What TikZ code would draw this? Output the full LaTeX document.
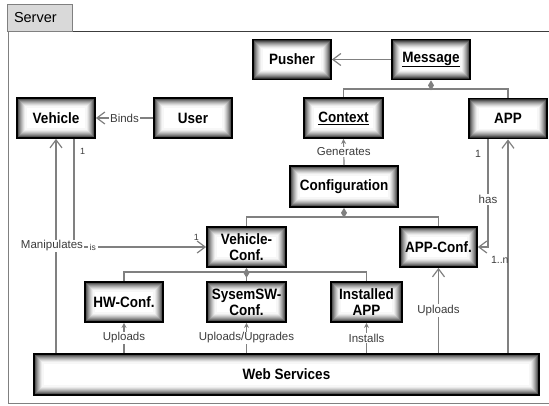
\documentclass[tikz,border=0pt]{standalone}
\usepackage{fontspec}
\setmainfont{Liberation Sans}
\newfontfamily\boxfont[FakeStretch = 0.9]{Liberation Sans}
\usetikzlibrary{arrows.meta}
\definecolor{linegray}{RGB}{128, 128, 128}
\definecolor{labgray}{RGB}{60, 60, 60}
\definecolor{tabgray}{RGB}{217, 217, 217}

\begin{document}
\begin{tikzpicture}[x = 1pt, y = -1pt,
  cls/.style = {draw = black, line width = 1.8pt, fill = white, inner sep = 0pt,
    minimum width = 78pt, minimum height = 40pt, align = center,
    font = \boxfont\bfseries\fontsize{15}{16}\selectfont,
    path picture = {\foreach \k/\tone in {1/80, 2/66, 3/53, 4/42, 5/32, 6/23, 7/15, 8/8, 9/3}
      \draw[black!\tone, line width = 1.1pt]
        ([shift = {({\k*1pt}, {\k*1pt})}]path picture bounding box.south west) rectangle
        ([shift = {({-\k*1pt}, {-\k*1pt})}]path picture bounding box.north east);}},
  conn/.style = {draw = linegray, line width = 1.2pt},
  open/.style = {conn, -{Straight Barb[length = 8pt, width = 12pt, line width = 1.2pt]}},
  small/.style = {conn, -{Stealth[length = 5pt, width = 5pt]}},
  agg/.style = {conn, {Diamond[length = 10pt, width = 6pt]}-},
  lab/.style = {fill = white, inner sep = 1pt, text = labgray, font = \fontsize{11.5}{13}\selectfont},
  mult/.style = {inner sep = 0.5pt, text = labgray, font = \fontsize{9}{10}\selectfont}]
\useasboundingbox (0, 0) rectangle (549, 405);

% frame and tab
\draw[color = linegray, line width = 1pt] (549, 403) -- (8, 403) -- (8, 31);
\draw[color = labgray, line width = 1pt] (8, 31) -- (549, 31);
\node[draw = linegray, fill = tabgray, line width = 0.8pt, minimum height = 27pt,
  inner xsep = 7pt, text width = 51pt, align = left,
  font = \fontsize{14.5}{16}\selectfont] (tab) at (39.5, 17.5) {Server};

% classes
\node[cls] (pusher) at (292, 59.5) {Pusher};
\node[cls] (msg) at (431, 59.5) {\underline{Message}};
\node[cls] (veh) at (56, 118) {Vehicle};
\node[cls] (user) at (193, 118) {User};
\node[cls, minimum width = 79pt] (ctx) at (343.5, 118) {\underline{Context}};
\node[cls] (app) at (508, 118.5) {APP};
\node[cls, minimum width = 108pt, minimum height = 41pt] (config) at (344, 186.5) {Configuration};
\node[cls, minimum width = 79pt] (vconf) at (246.5, 247) {Vehicle-\\Conf.};
\node[cls, minimum width = 77pt] (aconf) at (438.5, 247) {APP-Conf.};
\node[cls] (hw) at (124, 302) {HW-Conf.};
\node[cls, minimum width = 79pt] (sw) at (246.5, 302) {SysemSW-\\Conf.};
\node[cls, minimum width = 71pt] (inst) at (366.5, 302) {Installed\\APP};
\node[cls, minimum width = 505pt, minimum height = 41pt] (web) at (286.5, 374.5) {Web Services};

% associations
\draw[open] (msg) -- (pusher);
\draw[open] (user) -- node[lab] {Binds} (veh);
\draw[small] (config.north) -- node[lab] {Generates} (ctx.south);

% aggregations
\coordinate (msgbus) at (431, 89);
\draw[agg] (msg.south) -- (msgbus) -| (ctx.north);
\draw[conn] (msgbus) -| (app.north);
\coordinate (confbus) at (344, 217);
\draw[agg] (config.south) -- (confbus) -| (vconf.north);
\draw[conn] (confbus) -| (aconf.north);
\coordinate (vbus) at (246.5, 272);
\draw[agg] (vconf.south) -- (sw.north);
\draw[conn] (hw.north) |- (vbus) -| (inst.north);

% web services
\draw[small] (hw.south |- web.north) -- node[lab] {Uploads} (hw.south);
\draw[small] (sw.south |- web.north) -- node[lab] {Uploads/Upgrades} (sw.south);
\draw[small] (inst.south |- web.north) -- node[lab] {Installs} (inst.south);
\draw[open] (aconf.south |- web.north) -- node[lab] {Uploads} (aconf.south);
\draw[open] (app.south |- web.north) -- (app.south);
\draw[open] ([xshift = 18pt]veh.south) node[mult, anchor = north west, xshift = 5pt, yshift = -8pt] {1}
  |- node[lab, pos = 0.571, inner xsep = 2pt, font = \fontsize{8.5}{9}\selectfont] {is} (vconf.west)
  node[mult, anchor = south east, xshift = -6pt, yshift = 5pt] {1};
\draw[open] (veh.south |- web.north) -- node[lab, xshift = -4pt] {Manipulates} (veh.south);
\draw[open] ([xshift = -20pt]app.south) node[mult, anchor = north east, xshift = -6pt, yshift = -10pt,
    font = \fontsize{10.5}{11}\selectfont] {1}
  |- node[lab, pos = 0.28] {has} (aconf.east)
  node[mult, anchor = north west, xshift = 12pt, yshift = -8pt, font = \fontsize{10.5}{11}\selectfont] {1..n};
\end{tikzpicture}
\end{document}
